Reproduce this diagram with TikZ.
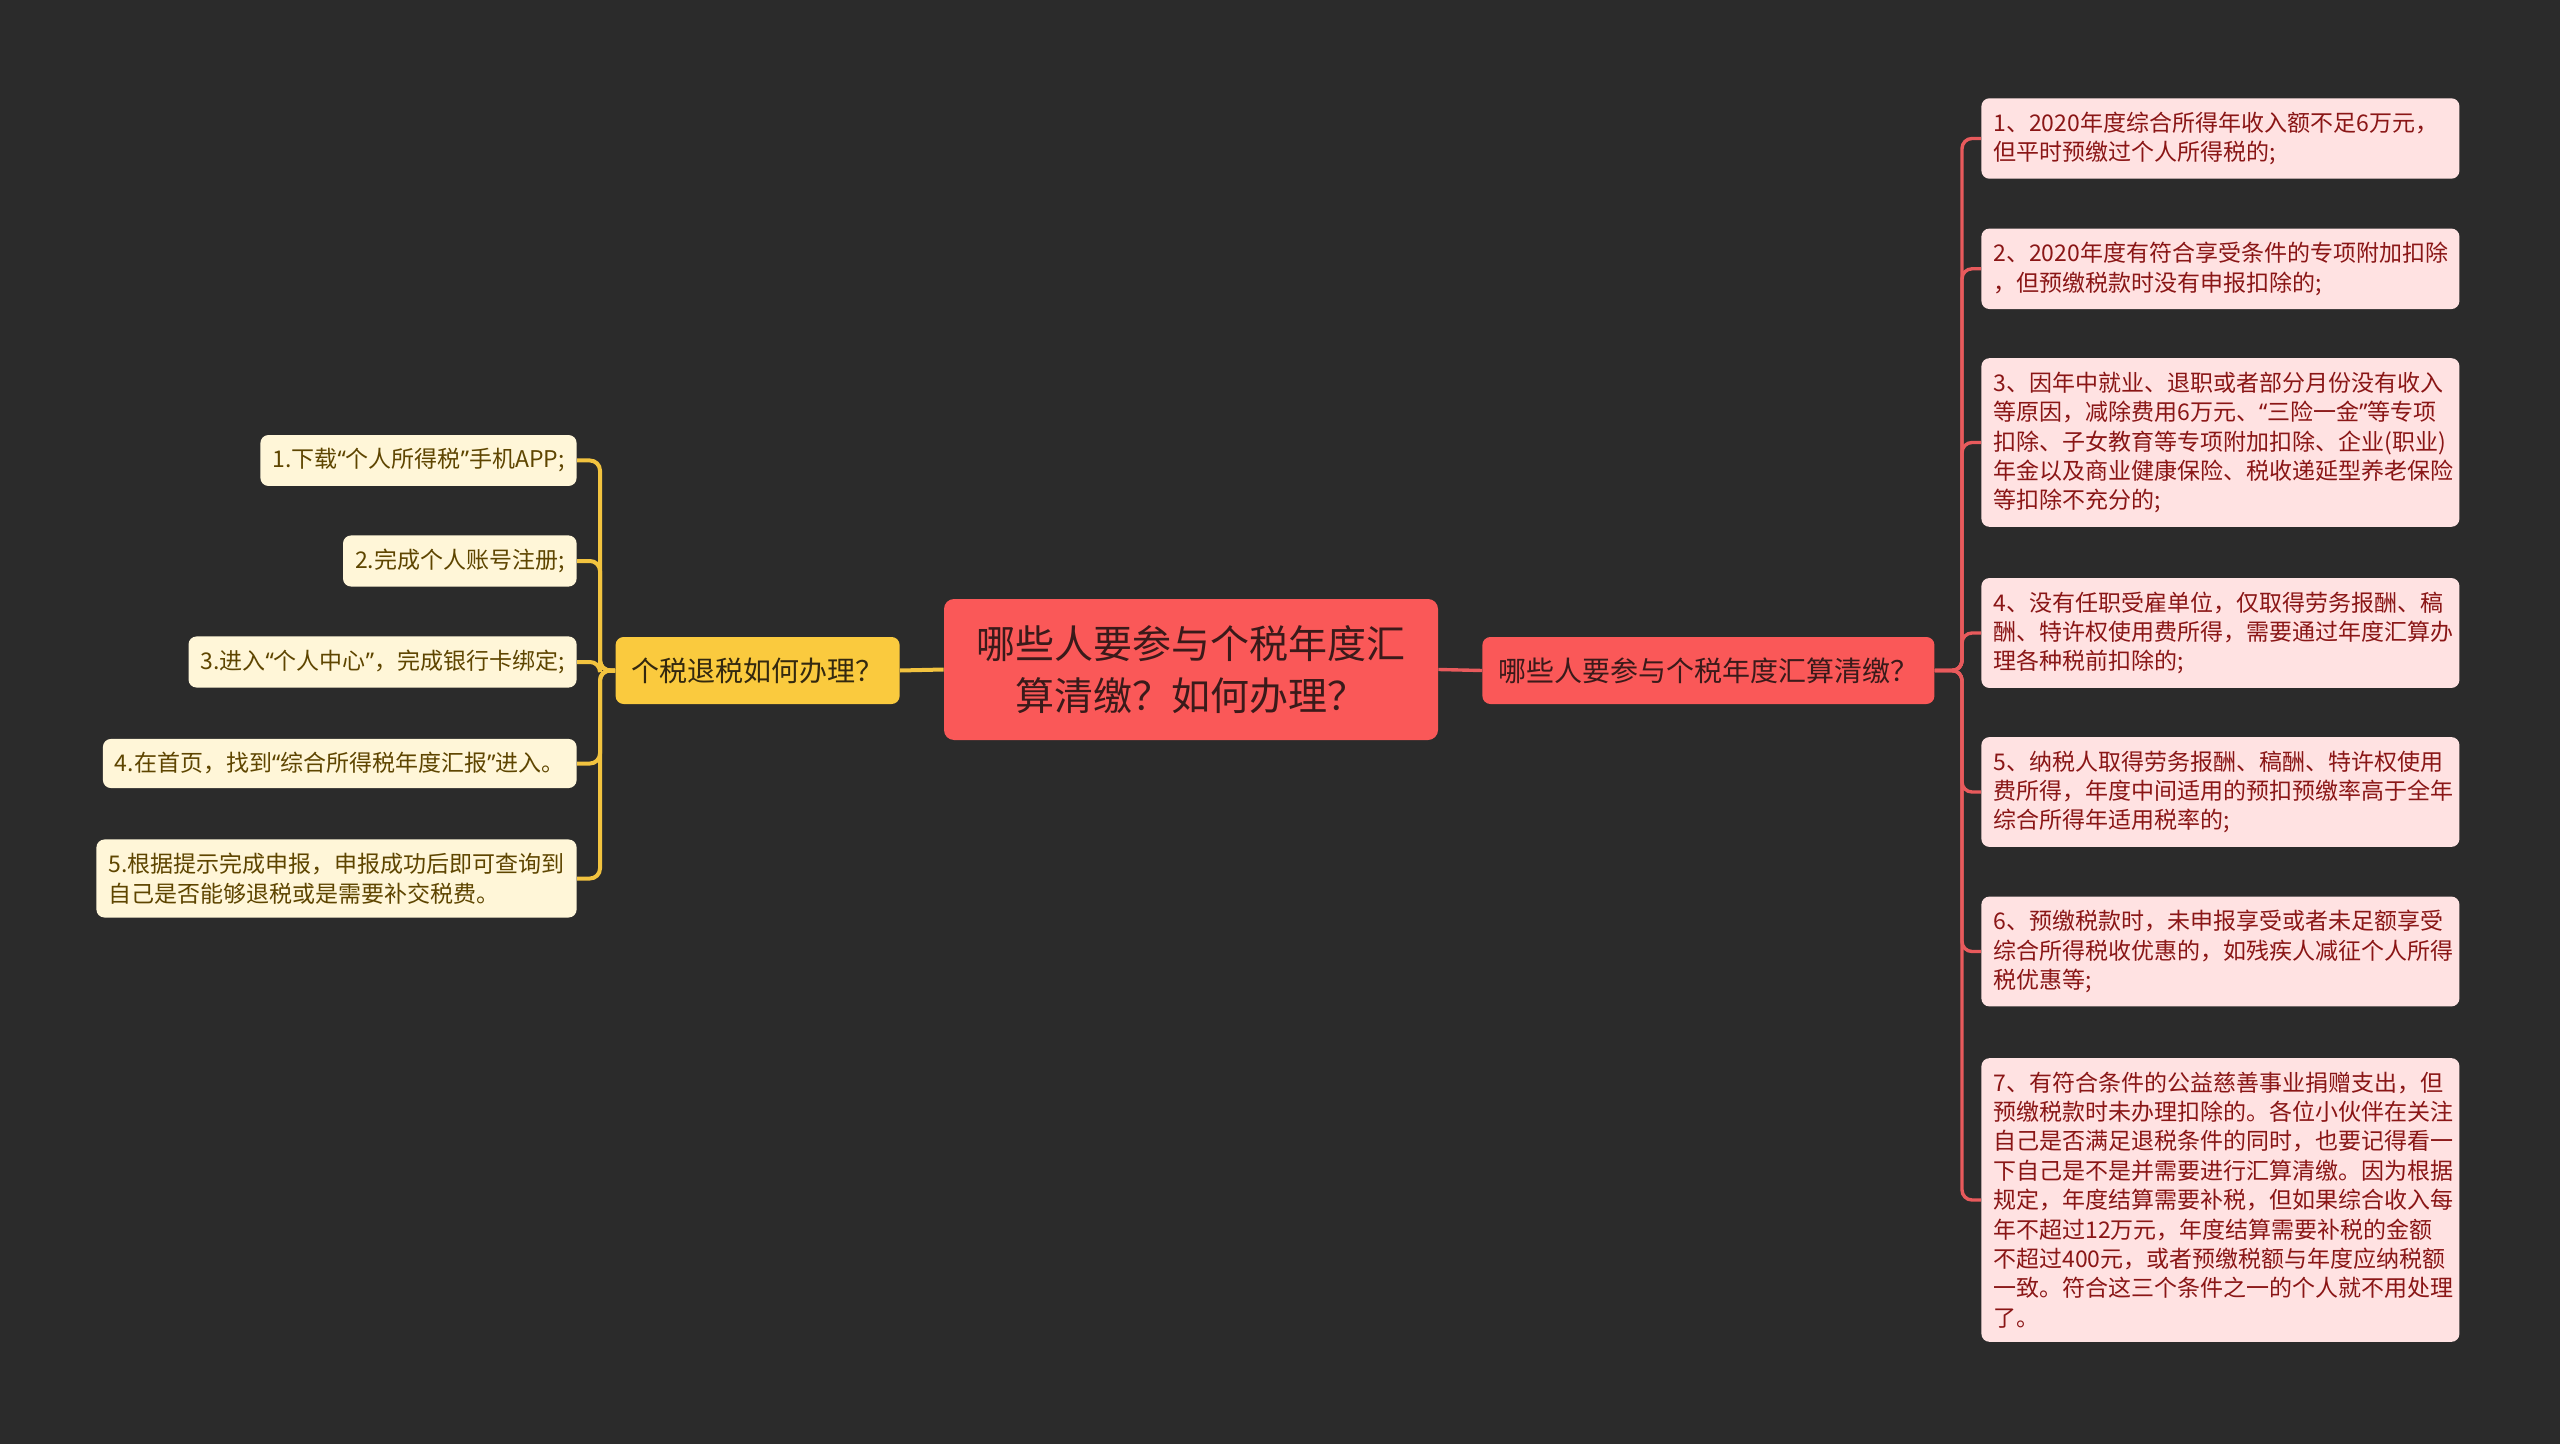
\documentclass[tikz,border=0pt]{standalone}
\usepackage{fontspec}
\setmainfont{Noto Sans CJK SC}
\newfontfamily\quotefont{Noto Sans}
\newcommand{\qopen}{{\quotefont “}}
\newcommand{\qclose}{{\quotefont ”}}
\definecolor{bgdark}{HTML}{2B2B2B}
\definecolor{rootred}{HTML}{FA5858}
\definecolor{roottext}{HTML}{3A1A1A}
\definecolor{howyellow}{HTML}{FACA3E}
\definecolor{howtext}{HTML}{33280F}
\definecolor{leafcream}{HTML}{FFF6D8}
\definecolor{leafbrown}{HTML}{5E4500}
\definecolor{leafpink}{HTML}{FFE2E2}
\definecolor{leafred}{HTML}{8A1616}
\definecolor{linkyellow}{HTML}{F2C33F}
\definecolor{linkred}{HTML}{E85A5C}

\begin{document}
\begin{tikzpicture}[x=0.5pt,y=-0.5pt,
    rootbox/.style={rectangle, rounded corners=5pt, fill=rootred, text=roottext,
      font=\fontsize{19.5}{26}\selectfont, align=center,
      minimum width=247pt, minimum height=70.5pt, inner sep=0pt},
    branchbox/.style={rectangle, rounded corners=4pt,
      font=\fontsize{14}{17}\selectfont, minimum height=33.5pt,
      inner xsep=8pt, inner ysep=0pt},
    howleaf/.style={rectangle, rounded corners=4pt, fill=leafcream, text=leafbrown,
      font=\fontsize{11.5}{14.7}\selectfont, align=left,
      inner xsep=6pt, inner ysep=6.8pt, anchor=east},
    wholeaf/.style={rectangle, rounded corners=4pt, fill=leafpink, text=leafred,
      font=\fontsize{11.5}{14.7}\selectfont, align=left, text width=227pt,
      inner xsep=6pt, inner ysep=6.8pt, anchor=west},
    ylink/.style={draw=linkyellow, line width=2pt, rounded corners=5pt},
    rlink/.style={draw=linkred, line width=1.7pt, rounded corners=5pt}]
    \fill[bgdark] (0,0) rectangle (2560,1444);
    \node[rootbox] (root) at (1191,669.5) {哪些人要参与个税年度汇\\算清缴？如何办理？};
    \node[branchbox, fill=howyellow, text=howtext, anchor=east] (how) at (900,670.5) {个税退税如何办理？};
    \node[branchbox, fill=rootred, text=roottext, anchor=west] (who) at (1482,670.5) {哪些人要参与个税年度汇算清缴？};
    \coordinate (hj) at (600,670.5);
    \coordinate (wj) at (1962,670.5);
    \node[howleaf] (h1) at (577,460.5) {1.下载\qopen 个人所得税\qclose 手机APP;};
    \node[howleaf] (h2) at (577,561) {2.完成个人账号注册;};
    \node[howleaf] (h3) at (577,662) {3.进入\qopen 个人中心\qclose ，完成银行卡绑定;};
    \node[howleaf] (h4) at (577,763.5) {4.在首页，找到\qopen 综合所得税年度汇报\qclose 进入。};
    \node[howleaf] (h5) at (577,878.5) {5.根据提示完成申报，申报成功后即可查询到\\自己是否能够退税或是需要补交税费。};
    \node[wholeaf] (w1) at (1981,138.5) {1、2020年度综合所得年收入额不足6万元，\\但平时预缴过个人所得税的;};
    \node[wholeaf] (w2) at (1981,268.8) {2、2020年度有符合享受条件的专项附加扣除\\，但预缴税款时没有申报扣除的;};
    \node[wholeaf] (w3) at (1981,442.5) {3、因年中就业、退职或者部分月份没有收入\\等原因，减除费用6万元、\qopen 三险一金\qclose 等专项\\扣除、子女教育等专项附加扣除、企业(职业)\\年金以及商业健康保险、税收递延型养老保险\\等扣除不充分的;};
    \node[wholeaf] (w4) at (1981,633) {4、没有任职受雇单位，仅取得劳务报酬、稿\\酬、特许权使用费所得，需要通过年度汇算办\\理各种税前扣除的;};
    \node[wholeaf] (w5) at (1981,792) {5、纳税人取得劳务报酬、稿酬、特许权使用\\费所得，年度中间适用的预扣预缴率高于全年\\综合所得年适用税率的;};
    \node[wholeaf] (w6) at (1981,951.5) {6、预缴税款时，未申报享受或者未足额享受\\综合所得税收优惠的，如残疾人减征个人所得\\税优惠等;};
    \node[wholeaf] (w7) at (1981,1200) {7、有符合条件的公益慈善事业捐赠支出，但\\预缴税款时未办理扣除的。各位小伙伴在关注\\自己是否满足退税条件的同时，也要记得看一\\下自己是不是并需要进行汇算清缴。因为根据\\规定，年度结算需要补税，但如果综合收入每\\年不超过12万元，年度结算需要补税的金额\\不超过400元，或者预缴税额与年度应纳税额\\一致。符合这三个条件之一的个人就不用处理\\了。};
    \draw[ylink] (root.west) -- (how.east);
    \draw[rlink] (root.east) -- (who.west);
    \draw[ylink] (how.west) -- (hj) |- (h1.east);
    \draw[ylink] (how.west) -- (hj) |- (h2.east);
    \draw[ylink] (how.west) -- (hj) |- (h3.east);
    \draw[ylink] (how.west) -- (hj) |- (h4.east);
    \draw[ylink] (how.west) -- (hj) |- (h5.east);
    \draw[rlink] (who.east) -- (wj) |- (w1.west);
    \draw[rlink] (who.east) -- (wj) |- (w2.west);
    \draw[rlink] (who.east) -- (wj) |- (w3.west);
    \draw[rlink] (who.east) -- (wj) |- (w4.west);
    \draw[rlink] (who.east) -- (wj) |- (w5.west);
    \draw[rlink] (who.east) -- (wj) |- (w6.west);
    \draw[rlink] (who.east) -- (wj) |- (w7.west);
  \end{tikzpicture}
\end{document}
